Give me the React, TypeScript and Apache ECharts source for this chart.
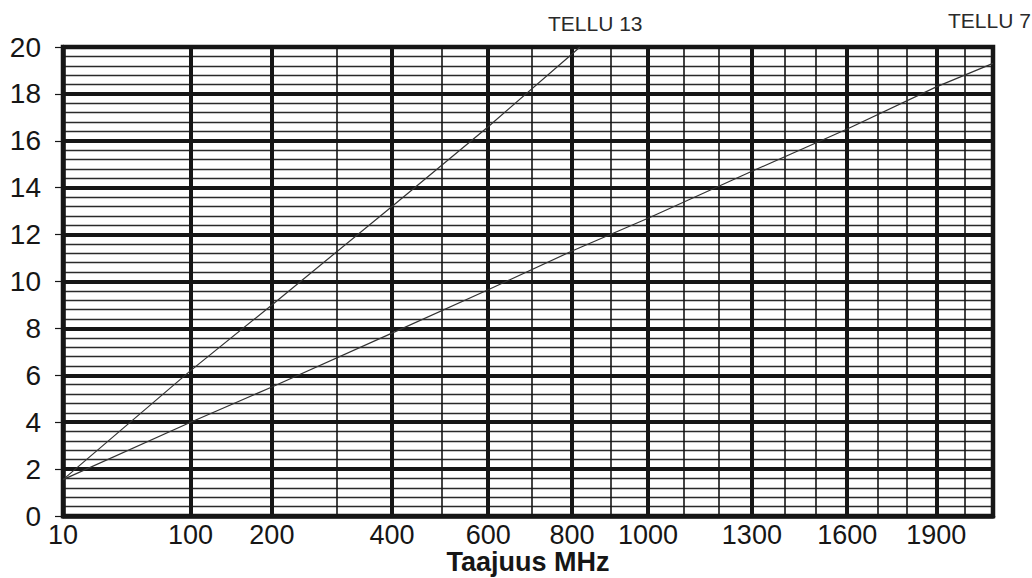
import React, { useEffect, useRef } from "react";
import * as echarts from "echarts";

// Frequency axis (MHz): grid lines and labels
const labelFreqs = [10, 100, 200, 400, 600, 800, 1000, 1300, 1600, 1900];
const majorFreqs = [10, 100, 200, 400, 600, 800, 1000, 1300, 1600, 1900, 2100];
const minorFreqs = [300, 500, 700, 900, 1100, 1200, 1400, 1500, 1700, 1800, 2000];
const freqMin = 10;
const freqMax = 2100;

// Attenuation (dB) series
const tellu7Freq = [10, 100, 200, 400, 600, 800, 1000, 1300, 1600, 1900, 2100];
const tellu7Att = [1.55, 4.0, 5.5, 7.8, 9.65, 11.3, 12.7, 14.7, 16.5, 18.3, 19.3];
const tellu13Freq = [10, 100, 200, 400, 600, 800, 820];
const tellu13Att = [1.55, 6.2, 9.0, 13.2, 16.6, 19.7, 20];

// Chart paper scale: sqrt(f) + c*f
const C = 0.005;
const g = (f: number) => Math.sqrt(f) + C * f;
const nearestFreq = (v: number) => {
  let best = labelFreqs[0];
  let bd = Infinity;
  for (const f of labelFreqs) {
    const d = Math.abs(g(f) - v);
    if (d < bd) {
      bd = d;
      best = f;
    }
  }
  return best;
};

const FONT = "'Liberation Sans', Arial, sans-serif";
const INK = "#161616";

export default function App() {
  const ref = useRef<HTMLDivElement>(null);
  useEffect(() => {
    document.body.style.margin = "0";
    const chart = echarts.init(ref.current!, null, { renderer: "svg" });
    const xBase = {
      type: "value" as const,
      min: g(freqMin),
      max: g(freqMax),
      gridIndex: 0,
    };
    chart.setOption({
      animation: false,
      backgroundColor: "#ffffff",
      grid: {
        left: 63,
        right: 39,
        top: 47,
        bottom: 62,
        show: true,
        borderColor: INK,
        borderWidth: 4.5,
        containLabel: false,
        outerBoundsMode: "none",
      },
      xAxis: [
        {
          ...xBase,
          position: "bottom",
          axisLine: { show: true, lineStyle: { color: INK, width: 4.5 } },
          axisTick: { show: false, customValues: majorFreqs.map(g) },
          axisLabel: {
            customValues: labelFreqs.map(g),
            formatter: (v: number) => String(nearestFreq(v)),
            fontFamily: FONT,
            fontSize: 27,
            color: INK,
            margin: 5,
          },
          splitLine: { show: true, lineStyle: { color: INK, width: 4 } },
          name: "Taajuus MHz",
          nameLocation: "middle",
          nameGap: 31,
          nameMoveOverlap: false,
          nameTextStyle: {
            fontFamily: FONT,
            fontSize: 27,
            fontWeight: "bold",
            color: INK,
            lineHeight: 30,
          },
          z: 2,
        },
        {
          ...xBase,
          position: "bottom",
          axisLine: { show: false },
          axisTick: { show: false, customValues: minorFreqs.map(g) },
          axisLabel: { show: false, customValues: minorFreqs.map(g) },
          splitLine: { show: true, lineStyle: { color: INK, width: 1.6 } },
        },
      ],
      yAxis: {
        type: "value",
        min: 0,
        max: 20,
        interval: 2,
        axisLine: { show: true, lineStyle: { color: INK, width: 4.5 } },
        axisTick: { show: true, inside: false, length: 8, lineStyle: { color: INK, width: 1.2 } },
        axisLabel: { fontFamily: FONT, fontSize: 28, color: INK, margin: 22 },
        splitLine: { show: true, lineStyle: { color: INK, width: 4 } },
        minorTick: { show: false, splitNumber: 5 },
        minorSplitLine: { show: true, lineStyle: { color: "#2a2a2a", width: 1.3 } },
      },
      series: [
        {
          name: "TELLU 7",
          type: "line",
          xAxisIndex: 0,
          data: tellu7Freq.map((f, i) => [g(f), tellu7Att[i]]),
          showSymbol: false,
          lineStyle: { color: "#333", width: 1.2 },
          z: 5,
        },
        {
          name: "TELLU 13",
          type: "line",
          xAxisIndex: 0,
          data: tellu13Freq.map((f, i) => [g(f), tellu13Att[i]]),
          showSymbol: false,
          lineStyle: { color: "#333", width: 1.2 },
          z: 5,
        },
      ],
      graphic: [
        {
          type: "text",
          left: 548,
          top: 13,
          style: { text: "TELLU 13", font: `21px ${FONT}`, fill: "#2a2a2a" },
        },
        {
          type: "text",
          left: 948,
          top: 10,
          style: { text: "TELLU 7", font: `21px ${FONT}`, fill: "#2a2a2a" },
        },
      ],
    });
    return () => chart.dispose();
  }, []);
  return <div ref={ref} style={{ width: 1032, height: 578 }} />;
}
